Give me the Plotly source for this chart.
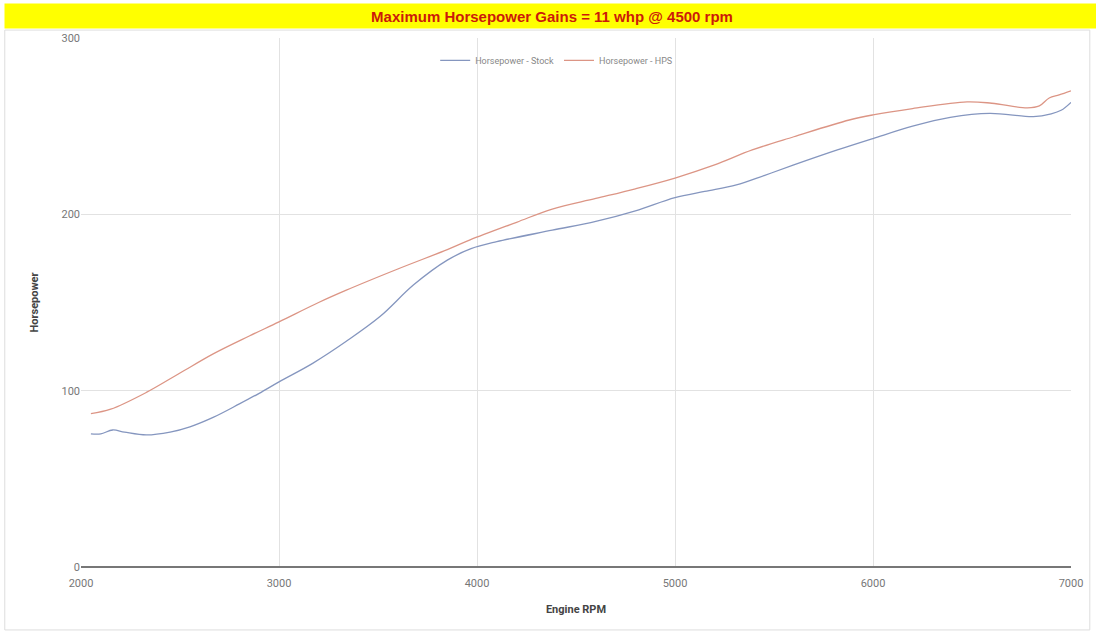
import plotly.graph_objects as go

rpm_stock = [2050, 2100, 2160, 2220, 2330, 2450, 2550, 2670, 2800, 2900, 3000, 3170, 3340, 3510, 3680, 3850, 3970, 4100, 4380, 4600, 4800, 5000, 5150, 5310, 5450, 5600, 5820, 6000, 6200, 6390, 6590, 6810, 6900, 6950, 7000]
hp_stock = [75.5, 75.5, 77.7, 76.5, 74.9, 76.5, 79.5, 85, 92.5, 98.5, 105, 115.5, 128, 142, 160, 174, 180.5, 184.5, 191, 196, 202, 209.5, 213, 216.7, 222, 228, 236.5, 243, 250, 255, 257.3, 255.4, 257, 259, 263.5]

rpm_hps = [2050, 2150, 2330, 2500, 2670, 2850, 3000, 3200, 3340, 3600, 3850, 3965, 4200, 4380, 4600, 4800, 5000, 5200, 5390, 5600, 5880, 6000, 6200, 6475, 6600, 6780, 6840, 6890, 6940, 7000]
hp_hps = [87, 89.5, 99, 110, 121, 131, 139, 150, 157, 169, 180, 185.5, 195.5, 203, 209, 214.5, 220.6, 228, 236.5, 244, 253.5, 256.4, 260, 263.8, 263, 260.4, 261.5, 266, 267.7, 270]

series_names = ["Horsepower - Stock", "Horsepower - HPS"]
title_text = "Maximum Horsepower Gains = 11 whp @ 4500 rpm"

fig = go.Figure()
fig.add_trace(go.Scatter(x=rpm_stock, y=hp_stock, mode="lines", name=series_names[0],
                         line=dict(color="#8596bf", width=1.3, shape="spline", smoothing=1.0)))
fig.add_trace(go.Scatter(x=rpm_hps, y=hp_hps, mode="lines", name=series_names[1],
                         line=dict(color="#dc9585", width=1.3, shape="spline", smoothing=1.0)))

fig.update_layout(
    width=1096, height=637,
    margin=dict(l=81, r=25, t=38, b=70),
    paper_bgcolor="white", plot_bgcolor="white",
    font=dict(family="Roboto", color="#777777", size=11),
    showlegend=True,
    legend=dict(orientation="h", x=0.48, y=0.985, xanchor="center", yanchor="top",
                font=dict(size=9, color="#888888"), bgcolor="rgba(0,0,0,0)",
                itemwidth=30, tracegroupgap=0),
    xaxis=dict(range=[2000, 7000], tickvals=[2000, 3000, 4000, 5000, 6000, 7000],
               showgrid=True, gridcolor="#e2e2e2", gridwidth=1, zeroline=False,
               showline=False, ticks="outside", ticklen=6, tickcolor="rgba(0,0,0,0)",
               tickfont=dict(size=11, color="#777777"),
               title=dict(text="<b>Engine RPM</b>", font=dict(size=11, color="#444444"), standoff=16)),
    yaxis=dict(range=[0, 300], tickvals=[0, 100, 200, 300],
               showgrid=True, gridcolor="#e2e2e2", gridwidth=1, zeroline=True,
               zerolinecolor="#777777", zerolinewidth=1.5, showline=False, ticks="",
               tickfont=dict(size=11, color="#777777"),
               title=dict(text="<b>Horsepower</b>", font=dict(size=11, color="#444444"), standoff=20)),
    shapes=[
        dict(type="rect", xref="paper", yref="paper", x0=-0.077, x1=1.019, y0=-0.119, y1=1.015,
             line=dict(color="#dddddd", width=1), fillcolor="rgba(0,0,0,0)", layer="below"),
    ],
    annotations=[
        dict(text="<b>" + title_text + "</b>", xref="paper", yref="paper", x=0.4758, y=1.0425,
             xanchor="center", yanchor="middle", showarrow=False, width=1092, height=22,
             bgcolor="#ffff00", font=dict(size=15, color="#cc1a0a", family="Arial")),
    ],
)

fig.write_html("out.html", config={"displayModeBar": False},
               post_script="document.body.style.margin='0';document.body.style.padding='0';")
